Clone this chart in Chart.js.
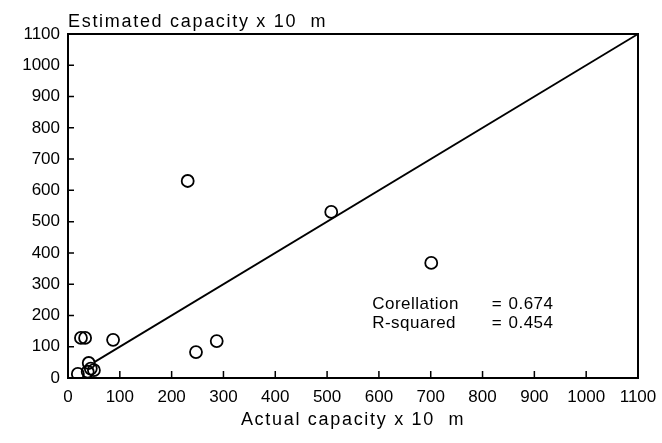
<!DOCTYPE html>
<html>
<head>
<meta charset="utf-8">
<script src="https://cdn.jsdelivr.net/npm/chart.js@4/dist/chart.umd.min.js"></script>
<style>
html,body{margin:0;padding:0;background:#fff;}
#wrap{width:662px;height:443px;position:relative;}
</style>
</head>
<body>
<div id="wrap"><canvas id="c" width="662" height="443"></canvas></div>
<script>
// Data
const actualCapacity    = [231, 508, 701, 287, 247, 87, 25, 33, 40, 44, 50, 38, 19];
const estimatedCapacity = [630, 531, 368, 118, 83, 122, 128, 128, 48, 30, 25, 20, 13];
const lineX = [50, 1100];
const lineY = [50, 1100];
const tickValues = [0,100,200,300,400,500,600,700,800,900,1000,1100];
const yTitle = "Estimated capacity x 10  m";
const xTitle = "Actual capacity x 10  m";
const statLabels = ["Corellation", "R-squared"];
const statValues = ["0.674", "0.454"];

const FONT = "'Liberation Sans', Arial, sans-serif";

const points = actualCapacity.map((x,i)=>({x:x, y:estimatedCapacity[i]}));
const linePts = lineX.map((x,i)=>({x:x, y:lineY[i]}));

const framePlugin = {
  id:'frame',
  afterDraw(chart){
    const ctx = chart.ctx, a = chart.chartArea;
    const xs = chart.scales.x, ys = chart.scales.y;
    ctx.save();
    ctx.strokeStyle = '#000';
    ctx.lineWidth = 2;
    ctx.strokeRect(a.left, a.top, a.right-a.left, a.bottom-a.top);
    ctx.lineWidth = 1.5;
    ctx.beginPath();
    tickValues.forEach(v=>{
      if (v>0 && v<1100){
        const px = xs.getPixelForValue(v);
        ctx.moveTo(px, a.bottom); ctx.lineTo(px, a.bottom-7);
        const py = ys.getPixelForValue(v);
        ctx.moveTo(a.left, py); ctx.lineTo(a.left+6, py);
      }
    });
    ctx.stroke();
    ctx.fillStyle = '#000';
    // y-axis title at top-left
    ctx.font = "18px " + FONT;
    ctx.letterSpacing = "1.7px";
    ctx.textAlign = 'left';
    ctx.textBaseline = 'alphabetic';
    ctx.fillText(yTitle, a.left, 27);
    // x-axis title centered under plot
    ctx.textAlign = 'center';
    ctx.fillText(xTitle, (a.left + a.right)/2, 425);
    // statistics
    ctx.textAlign = 'left';
    ctx.font = "17px " + FONT;
    ctx.letterSpacing = "0.5px";
    ctx.textBaseline = 'middle';
    const ty = [ys.getPixelForValue(237), ys.getPixelForValue(174)];
    const lx = xs.getPixelForValue(587);
    const ex = xs.getPixelForValue(818);
    const vx = xs.getPixelForValue(850);
    for (let i=0;i<2;i++){
      ctx.fillText(statLabels[i], lx, ty[i]);
      ctx.fillText("=", ex, ty[i]);
      ctx.fillText(statValues[i], vx, ty[i]);
    }
    ctx.restore();
  }
};

new Chart(document.getElementById('c'), {
  type:'scatter',
  data:{
    datasets:[
      {
        data: points,
        showLine:false,
        pointStyle:'circle',
        pointRadius:6,
        pointHoverRadius:6,
        pointBorderWidth:1.8,
        borderColor:'#000',
        backgroundColor:'rgba(0,0,0,0)',
        pointBackgroundColor:'rgba(0,0,0,0)',
        pointBorderColor:'#000'
      },
      {
        data: linePts,
        showLine:true,
        pointRadius:0,
        borderColor:'#000',
        borderWidth:1.8,
        fill:false
      }
    ]
  },
  options:{
    responsive:false,
    animation:false,
    events:[],
    layout:{padding:{top:34, right:24, left:0, bottom:0}},
    plugins:{legend:{display:false}, tooltip:{enabled:false}, title:{display:false}},
    scales:{
      x:{
        type:'linear', min:0, max:1100,
        afterFit(s){ s.height = 65; s.paddingLeft = 0; s.paddingRight = 0; },
        afterBuildTicks(s){ s.ticks = tickValues.map(v=>({value:v})); },
        grid:{display:false, drawTicks:false},
        border:{display:false},
        ticks:{color:'#000', padding:9, maxRotation:0, autoSkip:false,
               callback:(v)=>String(v),
               font:{family:FONT, size:17}}
      },
      y:{
        type:'linear', min:0, max:1100,
        afterFit(s){ s.width = 68; s.paddingTop = 0; s.paddingBottom = 0; },
        afterBuildTicks(s){ s.ticks = tickValues.map(v=>({value:v})); },
        grid:{display:false, drawTicks:false},
        border:{display:false},
        ticks:{color:'#000', padding:8, autoSkip:false,
               callback:(v)=>String(v),
               font:{family:FONT, size:17}}
      }
    }
  },
  plugins:[framePlugin]
});
</script>
</body>
</html>
